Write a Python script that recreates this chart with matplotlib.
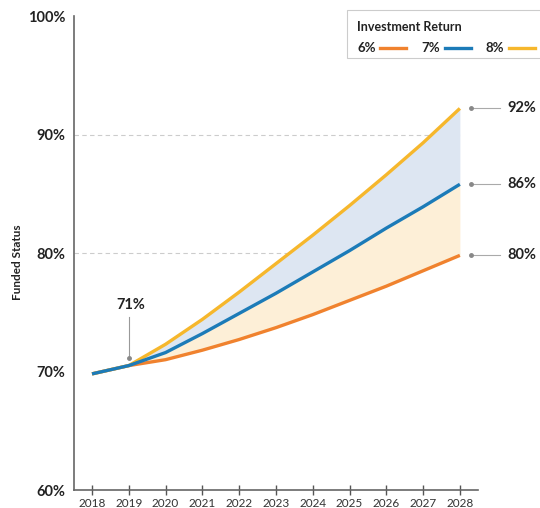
import numpy as np
import matplotlib
matplotlib.use("Agg")
from matplotlib import pyplot as plt

plt.rcParams['font.family'] = ['Lato', 'DejaVu Sans']

years = [2018, 2019, 2020, 2021, 2022, 2023, 2024, 2025, 2026, 2027, 2028]
ret_6 = [69.8, 70.5, 71.0, 71.8, 72.7, 73.7, 74.8, 76.0, 77.2, 78.5, 79.8]
ret_7 = [69.8, 70.5, 71.6, 73.2, 74.9, 76.6, 78.4, 80.2, 82.1, 83.9, 85.8]
ret_8 = [69.8, 70.5, 72.3, 74.4, 76.7, 79.1, 81.5, 84.0, 86.6, 89.3, 92.2]
end_labels = ["80%", "86%", "92%"]
start_label = "71%"

c6 = "#f0822e"
c7 = "#1c7bb8"
c8 = "#f6b72c"

fig = plt.figure(figsize=(5.4, 5.08), dpi=100)
ax = fig.add_axes([0.137, 0.0354, 0.748, 0.9331])

x = np.array(years)
# shaded bands between the scenarios (start from 2019, where they split)
ax.fill_between(x[1:], ret_7[1:], ret_8[1:], color="#dde6f2", lw=0, zorder=1)
ax.fill_between(x[1:], ret_6[1:], ret_7[1:], color="#fdefd7", lw=0, zorder=1)

ax.plot(x, ret_6, color=c6, lw=2.4, zorder=3, solid_capstyle="butt")
ax.plot(x, ret_8, color=c8, lw=2.4, zorder=3, solid_capstyle="butt")
ax.plot(x, ret_7, color=c7, lw=2.4, zorder=4, solid_capstyle="butt")

for yv in [80, 90]:
    ax.plot([2017.51, 2028.05], [yv, yv], color="#cccccc", lw=0.8,
            ls=(0, (4, 3)), zorder=0)

ax.set_xlim(2017.51, 2028.49)
ax.set_ylim(60, 100)
ax.set_xticks(years)
ax.set_xticklabels([str(y) for y in years], fontsize=8.5, color="#333333")
ax.set_yticks([60, 70, 80, 90, 100])
ax.set_yticklabels(["60%", "70%", "80%", "90%", "100%"], fontsize=10.5,
                   fontweight="bold", color="#222222")
ax.tick_params(axis="x", direction="inout", length=7, width=1, color="#555555", pad=2)
ax.tick_params(axis="y", length=0, pad=6)
for s in ["top", "right"]:
    ax.spines[s].set_visible(False)
for s in ["left", "bottom"]:
    ax.spines[s].set_color("#666666")
    ax.spines[s].set_linewidth(1.2)
ax.set_ylabel("Funded Status", fontsize=8.5, fontweight="bold", color="#222222")
ax.yaxis.set_label_coords(-0.125, 0.48)

# 2019 callout
ax.plot([2019, 2019], [71.1, 74.6], color="#999999", lw=0.8, zorder=5)
ax.plot(2019, 71.1, "o", ms=2.5, color="#888888", zorder=5)
ax.text(2019.05, 75.0, start_label, fontsize=10.5, fontweight="bold",
        color="#222222", ha="center", va="bottom")

# end-of-period callouts
for yv, lab in zip([ret_6[-1], ret_7[-1], ret_8[-1]], end_labels):
    ax.plot([2028.3, 2029.1], [yv, yv], color="#aaaaaa", lw=0.8, zorder=5,
            clip_on=False)
    ax.plot(2028.3, yv, "o", ms=2.5, color="#888888", zorder=5, clip_on=False)
    ax.text(2029.3, yv, lab, fontsize=10.5, fontweight="bold", color="#222222",
            ha="left", va="center", clip_on=False)

# legend box
lx0, ly0, lw_, lh_ = 347 / 540, 1 - 58 / 508, 200 / 540, 48 / 508
fig.patches.append(plt.Rectangle((lx0, ly0), lw_, lh_, transform=fig.transFigure,
                                 facecolor="white", edgecolor="#cccccc", lw=0.8))
fig.text(357 / 540, 1 - 27 / 508, "Investment Return", fontsize=9,
         fontweight="bold", color="#222222", va="center")
for i, (lab, col) in enumerate(zip(["6%", "7%", "8%"], [c6, c7, c8])):
    xs = (357 + i * 64.5) / 540
    fig.text(xs, 1 - 48 / 508, lab, fontsize=9.5, fontweight="bold",
             color="#222222", va="center")
    fig.add_artist(plt.Line2D([xs + 23 / 540, xs + 49 / 540],
                              [1 - 48 / 508, 1 - 48 / 508], color=col, lw=2.4,
                              transform=fig.transFigure))

fig.savefig("out.png", dpi=100)
